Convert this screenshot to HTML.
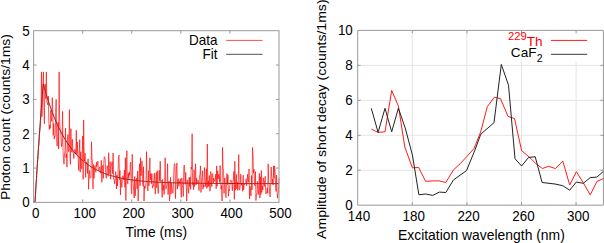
<!DOCTYPE html>
<html><head><meta charset="utf-8"><style>
html,body{margin:0;padding:0;background:#fff;width:604px;height:243px;overflow:hidden}
svg{display:block}
text{font-family:"Liberation Sans",sans-serif}
</style></head><body>
<svg width="604" height="243" viewBox="0 0 604 243" font-family="Liberation Sans, sans-serif">
<rect width="604" height="243" fill="#fff"/>
<path d="M34.97,202.40 L35.22,198.31 L35.47,194.26 L35.71,190.25 L35.96,186.27 L36.20,182.33 L36.45,178.42 L36.69,174.55 L36.94,170.72 L37.18,166.92 L37.43,163.15 L37.67,159.42 L37.92,155.72 L38.16,152.06 L38.41,148.43 L38.66,144.83 L38.90,141.27 L39.15,137.74 L39.39,134.24 L39.64,130.77 L39.88,127.33 L40.13,123.93 L40.37,120.55 L40.62,117.21 L40.86,113.89 L41.11,110.61 L41.35,107.36 L41.60,104.14 L41.85,100.94 L42.09,97.78 L42.34,94.64 L42.58,91.53 L42.83,88.45 L43.07,85.40 L43.32,83.95 L43.56,84.86 L43.81,85.75 L44.05,86.64 L44.30,87.53 L44.54,88.40 L44.79,89.27 L45.04,90.13 L45.28,90.98 L45.53,91.82 L45.77,92.66 L46.02,93.48 L46.26,94.30 L46.51,95.12 L46.75,95.92 L47.00,96.72 L47.24,97.51 L47.49,98.29 L47.74,99.07 L47.98,99.84 L48.23,100.60 L48.47,101.36 L49.45,104.31 L50.43,107.16 L51.42,109.90 L52.40,112.55 L53.38,115.10 L54.36,117.56 L55.34,119.93 L56.32,122.22 L57.31,124.42 L58.29,126.55 L59.27,128.60 L60.25,130.57 L61.23,132.48 L62.21,134.31 L63.20,136.08 L64.18,137.79 L65.16,139.43 L66.14,141.02 L67.12,142.55 L68.10,144.02 L69.08,145.45 L70.07,146.82 L71.05,148.14 L72.03,149.41 L73.01,150.64 L73.99,151.82 L74.97,152.96 L75.96,154.07 L76.94,155.13 L77.92,156.15 L78.90,157.14 L79.88,158.09 L80.86,159.00 L81.85,159.89 L82.83,160.74 L83.81,161.56 L84.79,162.35 L85.77,163.11 L86.75,163.85 L87.74,164.56 L88.72,165.24 L89.70,165.90 L90.68,166.54 L91.66,167.15 L92.64,167.74 L93.62,168.31 L94.61,168.86 L95.59,169.39 L96.57,169.90 L97.55,170.40 L98.53,170.87 L99.51,171.33 L100.50,171.77 L101.48,172.19 L102.46,172.60 L103.44,173.00 L104.42,173.38 L105.40,173.75 L106.39,174.10 L107.37,174.44 L108.35,174.77 L109.33,175.09 L110.31,175.40 L111.29,175.69 L112.28,175.98 L113.26,176.25 L114.24,176.52 L115.22,176.77 L116.20,177.02 L117.18,177.25 L118.16,177.48 L119.15,177.70 L120.13,177.91 L121.11,178.12 L122.09,178.32 L123.07,178.51 L124.05,178.69 L125.04,178.87 L126.02,179.04 L127.00,179.20 L127.98,179.36 L128.96,179.51 L129.94,179.66 L130.93,179.80 L131.91,179.94 L132.89,180.07 L133.87,180.20 L134.85,180.32 L135.83,180.44 L136.82,180.55 L137.80,180.66 L138.78,180.77 L139.76,180.87 L140.74,180.97 L141.72,181.07 L142.70,181.16 L143.69,181.25 L144.67,181.33 L145.65,181.41 L146.63,181.49 L147.61,181.57 L148.59,181.64 L149.58,181.71 L150.56,181.78 L151.54,181.85 L152.52,181.91 L153.50,181.97 L154.48,182.03 L155.47,182.09 L156.45,182.14 L157.43,182.19 L158.41,182.25 L159.39,182.30 L160.37,182.34 L161.36,182.39 L162.34,182.43 L163.32,182.47 L164.30,182.52 L165.28,182.56 L166.26,182.59 L167.24,182.63 L168.23,182.67 L169.21,182.70 L170.19,182.73 L171.17,182.76 L172.15,182.79 L173.13,182.82 L174.12,182.85 L175.10,182.88 L176.08,182.91 L177.06,182.93 L178.04,182.96 L179.02,182.98 L180.01,183.00 L180.99,183.03 L181.97,183.05 L182.95,183.07 L183.93,183.09 L184.91,183.11 L185.90,183.12 L186.88,183.14 L187.86,183.16 L188.84,183.17 L189.82,183.19 L190.80,183.21 L191.78,183.22 L192.77,183.23 L193.75,183.25 L194.73,183.26 L195.71,183.27 L196.69,183.29 L197.67,183.30 L198.66,183.31 L199.64,183.32 L200.62,183.33 L201.60,183.34 L202.58,183.35 L203.56,183.36 L204.55,183.37 L205.53,183.38 L206.51,183.39 L207.49,183.40 L208.47,183.40 L209.45,183.41 L210.44,183.42 L211.42,183.43 L212.40,183.43 L213.38,183.44 L214.36,183.45 L215.34,183.45 L216.32,183.46 L217.31,183.46 L218.29,183.47 L219.27,183.47 L220.25,183.48 L221.23,183.48 L222.21,183.49 L223.20,183.49 L224.18,183.50 L225.16,183.50 L226.14,183.51 L227.12,183.51 L228.10,183.51 L229.09,183.52 L230.07,183.52 L231.05,183.52 L232.03,183.53 L233.01,183.53 L233.99,183.53 L234.98,183.54 L235.96,183.54 L236.94,183.54 L237.92,183.55 L238.90,183.55 L239.88,183.55 L240.86,183.55 L241.85,183.55 L242.83,183.56 L243.81,183.56 L244.79,183.56 L245.77,183.56 L246.75,183.57 L247.74,183.57 L248.72,183.57 L249.70,183.57 L250.68,183.57 L251.66,183.57 L252.64,183.58 L253.63,183.58 L254.61,183.58 L255.59,183.58 L256.57,183.58 L257.55,183.58 L258.53,183.58 L259.52,183.58 L260.50,183.59 L261.48,183.59 L262.46,183.59 L263.44,183.59 L264.42,183.59 L265.40,183.59 L266.39,183.59 L267.37,183.59 L268.35,183.59 L269.33,183.59 L270.31,183.59 L271.29,183.60 L272.28,183.60 L273.26,183.60 L274.24,183.60 L275.22,183.60 L276.20,183.60 L277.18,183.60 L278.17,183.60 L279.00,183.60" fill="none" stroke="#222" stroke-width="0.9"/>
<path d="M33.60,202.40 L34.09,202.40 L34.58,202.40 L35.07,201.21 L35.56,193.85 L36.05,184.04 L36.54,179.07 L37.04,168.98 L37.53,162.58 L38.02,157.67 L38.51,146.92 L39.00,144.22 L39.49,133.53 L39.98,130.77 L40.47,124.13 L40.96,113.55 L41.45,71.91 L41.94,116.69 L42.43,102.83 L42.93,84.02 L43.42,71.91 L43.91,102.78 L44.40,123.84 L44.89,83.93 L45.38,84.45 L45.87,98.74 L46.36,71.91 L46.85,102.32 L47.34,102.87 L47.83,105.03 L48.32,95.95 L48.81,120.77 L49.31,129.56 L49.80,125.03 L50.29,128.38 L50.78,110.20 L51.27,117.96 L51.76,121.38 L52.25,97.66 L52.74,109.50 L53.23,135.31 L53.72,123.47 L54.21,139.11 L54.70,135.80 L55.20,136.54 L55.69,112.18 L56.18,99.38 L56.67,140.98 L57.16,146.13 L57.65,140.78 L58.14,122.13 L58.63,149.11 L59.12,71.91 L59.61,117.96 L60.10,129.23 L60.59,130.62 L61.08,139.11 L61.58,146.69 L62.07,143.92 L62.56,111.40 L63.05,151.53 L63.54,159.58 L64.03,164.17 L64.52,153.96 L65.01,150.96 L65.50,128.07 L65.99,157.62 L66.48,153.97 L66.97,167.17 L67.47,140.39 L67.96,134.56 L68.45,151.66 L68.94,149.72 L69.43,109.68 L69.92,153.35 L70.41,164.43 L70.90,128.71 L71.39,150.40 L71.88,152.22 L72.37,139.32 L72.86,151.69 L73.35,153.24 L73.85,158.52 L74.34,150.23 L74.83,149.23 L75.32,150.14 L75.81,153.08 L76.30,130.29 L76.79,154.77 L77.28,142.00 L77.77,152.17 L78.26,159.85 L78.75,170.50 L79.24,152.17 L79.74,139.61 L80.23,172.23 L80.72,151.84 L81.21,166.08 L81.70,168.75 L82.19,153.90 L82.68,136.01 L83.17,179.39 L83.66,119.98 L84.15,155.27 L84.64,161.17 L85.13,153.26 L85.62,177.38 L86.12,161.76 L86.61,163.82 L87.10,162.95 L87.59,173.44 L88.08,158.84 L88.57,189.28 L89.06,176.14 L89.55,170.48 L90.04,178.01 L90.53,178.19 L91.02,177.43 L91.51,141.72 L92.01,158.44 L92.50,162.90 L92.99,188.89 L93.48,164.55 L93.97,178.45 L94.46,172.70 L94.95,165.62 L95.44,171.78 L95.93,172.35 L96.42,162.16 L96.91,166.63 L97.40,164.48 L97.89,161.07 L98.39,170.55 L98.88,170.95 L99.37,167.99 L99.86,166.91 L100.35,173.22 L100.84,169.84 L101.33,160.38 L101.82,182.28 L102.31,167.07 L102.80,165.37 L103.29,178.46 L103.78,163.78 L104.28,156.62 L104.77,157.28 L105.26,160.32 L105.75,174.36 L106.24,178.27 L106.73,173.71 L107.22,165.67 L107.71,168.04 L108.20,176.46 L108.69,152.71 L109.18,173.69 L109.67,173.03 L110.16,161.56 L110.66,179.18 L111.15,166.73 L111.64,164.06 L112.13,161.73 L112.62,173.64 L113.11,153.01 L113.60,178.99 L114.09,179.01 L114.58,183.82 L115.07,180.71 L115.56,171.61 L116.05,175.00 L116.55,189.06 L117.04,175.33 L117.53,185.93 L118.02,173.87 L118.51,156.64 L119.00,155.06 L119.49,179.58 L119.98,170.50 L120.47,194.85 L120.96,178.53 L121.45,185.14 L121.94,187.33 L122.43,179.39 L122.93,175.78 L123.42,178.07 L123.91,180.04 L124.40,169.99 L124.89,187.39 L125.38,157.76 L125.87,200.47 L126.36,170.31 L126.85,150.68 L127.34,181.06 L127.83,183.82 L128.32,173.34 L128.82,178.39 L129.31,172.07 L129.80,175.12 L130.29,164.38 L130.78,162.05 L131.27,190.62 L131.76,193.75 L132.25,154.32 L132.74,178.58 L133.23,183.95 L133.72,191.36 L134.21,197.99 L134.70,176.48 L135.20,195.95 L135.69,186.35 L136.18,179.50 L136.67,178.05 L137.16,188.91 L137.65,171.14 L138.14,201.03 L138.63,188.41 L139.12,173.82 L139.61,163.67 L140.10,185.92 L140.59,157.76 L141.09,175.83 L141.58,166.77 L142.07,161.15 L142.56,178.93 L143.05,186.19 L143.54,166.59 L144.03,201.03 L144.52,186.16 L145.01,188.71 L145.50,186.19 L145.99,182.95 L146.48,151.62 L146.97,178.84 L147.47,188.38 L147.96,190.94 L148.45,170.65 L148.94,185.75 L149.43,167.12 L149.92,157.76 L150.41,179.69 L150.90,173.49 L151.39,183.71 L151.88,173.83 L152.37,188.16 L152.86,185.71 L153.36,186.33 L153.85,179.09 L154.34,173.16 L154.83,186.77 L155.32,194.12 L155.81,178.25 L156.30,172.47 L156.79,187.73 L157.28,170.68 L157.77,187.71 L158.26,193.47 L158.75,184.54 L159.24,170.30 L159.74,180.90 L160.23,161.19 L160.72,181.45 L161.21,180.29 L161.70,187.91 L162.19,197.33 L162.68,179.47 L163.17,190.30 L163.66,185.39 L164.15,194.39 L164.64,183.91 L165.13,157.76 L165.63,186.91 L166.12,189.18 L166.61,185.23 L167.10,185.34 L167.59,163.70 L168.08,194.70 L168.57,183.26 L169.06,181.15 L169.55,201.03 L170.04,194.83 L170.53,177.38 L171.02,193.99 L171.51,183.17 L172.01,186.41 L172.50,192.43 L172.99,193.27 L173.48,185.05 L173.97,166.71 L174.46,163.60 L174.95,163.87 L175.44,198.55 L175.93,183.63 L176.42,168.67 L176.91,162.93 L177.40,189.20 L177.90,179.26 L178.39,178.66 L178.88,186.37 L179.37,181.45 L179.86,182.74 L180.35,178.68 L180.84,190.96 L181.33,197.36 L181.82,177.90 L182.31,186.32 L182.80,185.97 L183.29,196.51 L183.78,168.72 L184.28,165.06 L184.77,175.43 L185.26,184.45 L185.75,172.40 L186.24,185.90 L186.73,201.03 L187.22,180.45 L187.71,179.89 L188.20,187.98 L188.69,193.40 L189.18,177.59 L189.67,186.46 L190.17,176.98 L190.66,189.45 L191.15,167.04 L191.64,169.19 L192.13,133.72 L192.62,184.89 L193.11,182.46 L193.60,189.65 L194.09,169.70 L194.58,186.65 L195.07,183.53 L195.56,163.77 L196.05,184.82 L196.55,178.14 L197.04,184.07 L197.53,183.56 L198.02,180.16 L198.51,181.71 L199.00,190.60 L199.49,175.33 L199.98,174.86 L200.47,165.89 L200.96,192.45 L201.45,183.63 L201.94,177.03 L202.44,170.73 L202.93,189.26 L203.42,184.60 L203.91,187.21 L204.40,167.51 L204.89,177.38 L205.38,186.60 L205.87,181.43 L206.36,168.80 L206.85,188.39 L207.34,144.02 L207.83,187.10 L208.32,180.85 L208.82,186.13 L209.31,175.46 L209.80,191.20 L210.29,189.71 L210.78,171.48 L211.27,175.57 L211.76,186.70 L212.25,174.08 L212.74,173.58 L213.23,183.05 L213.72,178.11 L214.21,181.56 L214.71,180.42 L215.20,180.59 L215.69,174.29 L216.18,188.79 L216.67,165.83 L217.16,186.19 L217.65,170.80 L218.14,178.98 L218.63,174.26 L219.12,175.10 L219.61,182.52 L220.10,165.52 L220.59,181.74 L221.09,189.22 L221.58,185.39 L222.07,201.03 L222.56,147.46 L223.05,167.38 L223.54,170.79 L224.03,193.42 L224.52,178.14 L225.01,177.88 L225.50,191.53 L225.99,197.71 L226.48,184.10 L226.98,173.41 L227.47,184.45 L227.96,174.92 L228.45,196.21 L228.94,189.75 L229.43,190.68 L229.92,185.31 L230.41,180.49 L230.90,180.61 L231.39,180.43 L231.88,183.94 L232.37,190.68 L232.86,181.11 L233.36,179.55 L233.85,171.36 L234.34,199.36 L234.83,161.19 L235.32,190.20 L235.81,183.09 L236.30,174.31 L236.79,188.82 L237.28,181.91 L237.77,190.41 L238.26,180.65 L238.75,154.64 L239.25,189.49 L239.74,190.22 L240.23,185.58 L240.72,174.23 L241.21,185.27 L241.70,183.82 L242.19,183.15 L242.68,191.34 L243.17,175.04 L243.66,189.80 L244.15,183.67 L244.64,184.49 L245.13,183.59 L245.63,183.92 L246.12,178.77 L246.61,185.76 L247.10,181.66 L247.59,174.21 L248.08,182.24 L248.57,181.98 L249.06,168.93 L249.55,198.83 L250.04,186.40 L250.53,191.68 L251.02,195.93 L251.52,175.58 L252.01,189.95 L252.50,147.46 L252.99,155.10 L253.48,173.07 L253.97,169.21 L254.46,185.31 L254.95,185.76 L255.44,171.63 L255.93,200.48 L256.42,194.14 L256.91,194.45 L257.40,181.27 L257.90,188.30 L258.39,194.50 L258.88,185.23 L259.37,173.39 L259.86,198.08 L260.35,176.80 L260.84,194.53 L261.33,170.45 L261.82,192.39 L262.31,185.94 L262.80,189.90 L263.29,177.77 L263.79,182.44 L264.28,186.40 L264.77,179.58 L265.26,176.31 L265.75,193.81 L266.24,192.67 L266.73,192.99 L267.22,188.15 L267.71,193.38 L268.20,163.77 L268.69,183.18 L269.18,183.71 L269.67,194.61 L270.17,196.93 L270.66,186.59 L271.15,167.02 L271.64,176.29 L272.13,183.65 L272.62,179.24 L273.11,185.07 L273.60,165.76 L274.09,178.54 L274.58,166.12 L275.07,170.81 L275.56,185.25 L276.06,191.47 L276.55,175.08 L277.04,190.03 L277.53,198.14 L278.02,193.51 L278.51,192.56 L279.00,178.07" fill="none" stroke="#ff0000" stroke-width="0.65" stroke-linejoin="miter"/>
<rect x="33.6" y="30.7" width="245.40" height="171.70" fill="none" stroke="#999999" stroke-width="1"/>
<line x1="82.68" y1="202.4" x2="82.68" y2="199.4" stroke="#999999" stroke-width="1"/>
<line x1="82.68" y1="30.7" x2="82.68" y2="33.7" stroke="#999999" stroke-width="1"/>
<line x1="131.76" y1="202.4" x2="131.76" y2="199.4" stroke="#999999" stroke-width="1"/>
<line x1="131.76" y1="30.7" x2="131.76" y2="33.7" stroke="#999999" stroke-width="1"/>
<line x1="180.84" y1="202.4" x2="180.84" y2="199.4" stroke="#999999" stroke-width="1"/>
<line x1="180.84" y1="30.7" x2="180.84" y2="33.7" stroke="#999999" stroke-width="1"/>
<line x1="229.92" y1="202.4" x2="229.92" y2="199.4" stroke="#999999" stroke-width="1"/>
<line x1="229.92" y1="30.7" x2="229.92" y2="33.7" stroke="#999999" stroke-width="1"/>
<line x1="33.6" y1="168.06" x2="36.6" y2="168.06" stroke="#999999" stroke-width="1"/>
<line x1="279.0" y1="168.06" x2="276.0" y2="168.06" stroke="#999999" stroke-width="1"/>
<line x1="33.6" y1="133.72" x2="36.6" y2="133.72" stroke="#999999" stroke-width="1"/>
<line x1="279.0" y1="133.72" x2="276.0" y2="133.72" stroke="#999999" stroke-width="1"/>
<line x1="33.6" y1="99.38" x2="36.6" y2="99.38" stroke="#999999" stroke-width="1"/>
<line x1="279.0" y1="99.38" x2="276.0" y2="99.38" stroke="#999999" stroke-width="1"/>
<line x1="33.6" y1="65.04" x2="36.6" y2="65.04" stroke="#999999" stroke-width="1"/>
<line x1="279.0" y1="65.04" x2="276.0" y2="65.04" stroke="#999999" stroke-width="1"/>
<text transform="translate(29.6,207.40) scale(1,1.08)" font-size="13.4" text-anchor="end">0</text>
<text transform="translate(29.6,173.06) scale(1,1.08)" font-size="13.4" text-anchor="end">1</text>
<text transform="translate(29.6,138.72) scale(1,1.08)" font-size="13.4" text-anchor="end">2</text>
<text transform="translate(29.6,104.38) scale(1,1.08)" font-size="13.4" text-anchor="end">3</text>
<text transform="translate(29.6,70.04) scale(1,1.08)" font-size="13.4" text-anchor="end">4</text>
<text transform="translate(29.6,35.70) scale(1,1.08)" font-size="13.4" text-anchor="end">5</text>
<text transform="translate(35.84,217.6) scale(1,1.08)" font-size="13.4" text-anchor="middle">0</text>
<text transform="translate(84.77,217.6) scale(1,1.08)" font-size="13.4" text-anchor="middle">100</text>
<text transform="translate(133.71,217.6) scale(1,1.08)" font-size="13.4" text-anchor="middle">200</text>
<text transform="translate(182.64,217.6) scale(1,1.08)" font-size="13.4" text-anchor="middle">300</text>
<text transform="translate(231.57,217.6) scale(1,1.08)" font-size="13.4" text-anchor="middle">400</text>
<text transform="translate(280.50,217.6) scale(1,1.08)" font-size="13.4" text-anchor="middle">500</text>
<text x="156.3" y="236.9" font-size="13.8" text-anchor="middle">Time (ms)</text>
<text transform="translate(9.9,200.1) scale(0.95,1) rotate(-90)" font-size="13.9">Photon count (counts/1ms)</text>
<text transform="translate(217.4,44.8) scale(1,1.05)" font-size="13.45" text-anchor="end">Data</text>
<text transform="translate(217.4,58.8) scale(1,1.05)" font-size="13.45" text-anchor="end">Fit</text>
<line x1="226.2" y1="40.4" x2="262.6" y2="40.4" stroke="#ff0000" stroke-width="0.7"/>
<line x1="226.2" y1="54.3" x2="262.6" y2="54.3" stroke="#333" stroke-width="0.85"/>
<line x1="412.30" y1="205.2" x2="412.30" y2="30.4" stroke="#e4e4e4" stroke-width="1"/>
<line x1="466.90" y1="205.2" x2="466.90" y2="30.4" stroke="#e4e4e4" stroke-width="1"/>
<line x1="521.50" y1="205.2" x2="521.50" y2="30.4" stroke="#e4e4e4" stroke-width="1"/>
<line x1="576.10" y1="205.2" x2="576.10" y2="30.4" stroke="#e4e4e4" stroke-width="1"/>
<line x1="357.7" y1="170.24" x2="603.4" y2="170.24" stroke="#e4e4e4" stroke-width="1"/>
<line x1="357.7" y1="135.28" x2="603.4" y2="135.28" stroke="#e4e4e4" stroke-width="1"/>
<line x1="357.7" y1="100.32" x2="603.4" y2="100.32" stroke="#e4e4e4" stroke-width="1"/>
<line x1="357.7" y1="65.36" x2="603.4" y2="65.36" stroke="#e4e4e4" stroke-width="1"/>
<rect x="503" y="31" width="99" height="30.5" fill="#fff"/>
<clipPath id="rc"><rect x="357" y="29" width="247" height="177"/></clipPath>
<g clip-path="url(#rc)"><path d="M371.30,129.10 L378.10,132.40 L385.00,131.80 L391.70,90.40 L398.40,106.10 L404.80,147.00 L412.40,167.80 L418.70,167.50 L425.60,181.30 L432.80,180.90 L439.30,180.90 L445.80,182.50 L453.50,169.80 L460.40,163.50 L466.50,156.80 L474.00,148.50 L480.60,132.10 L487.30,106.70 L494.30,97.30 L500.50,98.60 L508.00,116.40 L514.50,118.50 L521.60,150.60 L529.00,156.80 L535.80,163.50 L542.40,168.50 L548.50,166.30 L555.50,168.60 L562.80,161.00 L569.70,185.00 L576.40,171.70 L583.30,182.80 L590.20,194.90 L596.90,181.50 L604.00,178.30" fill="none" stroke="#ff1a1a" stroke-width="1" stroke-linejoin="round"/>
<path d="M371.30,108.30 L378.10,132.40 L385.00,108.30 L391.70,131.80 L398.40,108.20 L405.50,129.00 L412.40,155.00 L418.90,194.80 L425.60,194.00 L432.80,195.40 L439.30,192.10 L445.80,192.50 L453.50,179.90 L466.50,170.60 L474.60,150.90 L480.80,134.20 L494.00,122.70 L501.30,64.40 L508.50,85.20 L515.00,158.70 L521.60,166.00 L528.50,157.50 L535.20,156.70 L542.10,182.50 L555.00,184.00 L562.80,185.70 L569.70,190.20 L576.40,182.00 L583.30,183.30 L590.20,177.60 L596.90,177.10 L604.00,170.90" fill="none" stroke="#222" stroke-width="1" stroke-linejoin="round"/></g>
<polyline points="603.4,30.4 357.7,30.4 357.7,205.2 603.4,205.2" fill="none" stroke="#999999" stroke-width="1"/>
<line x1="603.4" y1="30.4" x2="603.4" y2="205.2" stroke="#999999" stroke-width="1"/>
<line x1="412.30" y1="205.2" x2="412.30" y2="202.2" stroke="#999999" stroke-width="1"/>
<line x1="412.30" y1="30.4" x2="412.30" y2="33.4" stroke="#999999" stroke-width="1"/>
<line x1="466.90" y1="205.2" x2="466.90" y2="202.2" stroke="#999999" stroke-width="1"/>
<line x1="466.90" y1="30.4" x2="466.90" y2="33.4" stroke="#999999" stroke-width="1"/>
<line x1="521.50" y1="205.2" x2="521.50" y2="202.2" stroke="#999999" stroke-width="1"/>
<line x1="521.50" y1="30.4" x2="521.50" y2="33.4" stroke="#999999" stroke-width="1"/>
<line x1="576.10" y1="205.2" x2="576.10" y2="202.2" stroke="#999999" stroke-width="1"/>
<line x1="576.10" y1="30.4" x2="576.10" y2="33.4" stroke="#999999" stroke-width="1"/>
<line x1="357.7" y1="170.24" x2="360.7" y2="170.24" stroke="#999999" stroke-width="1"/>
<line x1="603.4" y1="170.24" x2="600.4" y2="170.24" stroke="#999999" stroke-width="1"/>
<line x1="357.7" y1="135.28" x2="360.7" y2="135.28" stroke="#999999" stroke-width="1"/>
<line x1="603.4" y1="135.28" x2="600.4" y2="135.28" stroke="#999999" stroke-width="1"/>
<line x1="357.7" y1="100.32" x2="360.7" y2="100.32" stroke="#999999" stroke-width="1"/>
<line x1="603.4" y1="100.32" x2="600.4" y2="100.32" stroke="#999999" stroke-width="1"/>
<line x1="357.7" y1="65.36" x2="360.7" y2="65.36" stroke="#999999" stroke-width="1"/>
<line x1="603.4" y1="65.36" x2="600.4" y2="65.36" stroke="#999999" stroke-width="1"/>
<text transform="translate(352.8,210.20) scale(1,1.08)" font-size="13.4" text-anchor="end">0</text>
<text transform="translate(352.8,175.24) scale(1,1.08)" font-size="13.4" text-anchor="end">2</text>
<text transform="translate(352.8,140.28) scale(1,1.08)" font-size="13.4" text-anchor="end">4</text>
<text transform="translate(352.8,105.32) scale(1,1.08)" font-size="13.4" text-anchor="end">6</text>
<text transform="translate(352.8,70.36) scale(1,1.08)" font-size="13.4" text-anchor="end">8</text>
<text transform="translate(352.8,35.40) scale(1,1.08)" font-size="13.4" text-anchor="end">10</text>
<text transform="translate(358.90,220.6) scale(1,1.08)" font-size="13.4" text-anchor="middle">140</text>
<text transform="translate(413.74,220.6) scale(1,1.08)" font-size="13.4" text-anchor="middle">180</text>
<text transform="translate(468.58,220.6) scale(1,1.08)" font-size="13.4" text-anchor="middle">220</text>
<text transform="translate(523.42,220.6) scale(1,1.08)" font-size="13.4" text-anchor="middle">260</text>
<text transform="translate(578.26,220.6) scale(1,1.08)" font-size="13.4" text-anchor="middle">300</text>
<text x="398.0" y="240.2" font-size="13.9">Excitation wavelength (nm)</text>
<text transform="translate(326.3,238.9) scale(0.95,1) rotate(-90)" font-size="14.05">Amplitude of short decay (counts/1ms)</text>
<text x="542.5" y="46.2" font-size="13.6" text-anchor="end" fill="#ff0000"><tspan font-size="11.2" dy="-6.0">229</tspan><tspan dy="6.0">Th</tspan></text>
<text x="536.5" y="57.4" font-size="13.6" text-anchor="end">CaF</text>
<text x="536.8" y="61.8" font-size="10.5">2</text>
<line x1="550.9" y1="40.4" x2="587.2" y2="40.4" stroke="#ff1a1a" stroke-width="1"/>
<line x1="550.9" y1="54.3" x2="587.2" y2="54.3" stroke="#222" stroke-width="0.9"/>
</svg>
</body></html>
